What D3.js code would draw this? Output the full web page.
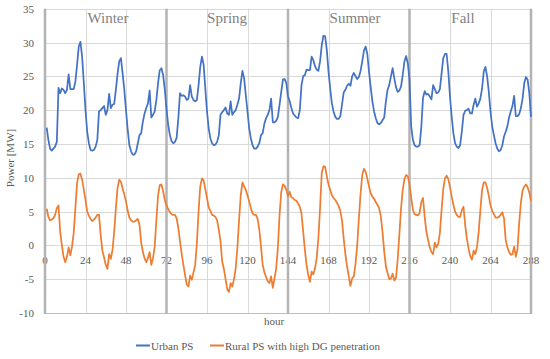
<!DOCTYPE html>
<html><head><meta charset="utf-8">
<script src="https://cdn.jsdelivr.net/npm/d3@7"></script>
<style>
html,body{margin:0;padding:0;background:#fff;}
svg{display:block;font-family:"Liberation Serif","DejaVu Serif",serif;}
</style></head>
<body>
<svg id="chart" width="550" height="359"></svg>
<script>
// ---- data ----
const seasons = ["Winter", "Spring", "Summer", "Fall"];
const seasonBounds = [0, 72, 144, 216, 288];
const xTicks = [0, 24, 48, 72, 96, 120, 144, 168, 192, 216, 240, 264, 288];
const yTicks = [-10, -5, 0, 5, 10, 15, 20, 25, 30, 35];
const seriesNames = ["Urban PS", "Rural PS with high DG penetration"];

const urbanPS = [
 17.4,15.6,14.3,14.0,14.3,14.6,15.3,23.3,22.5,23.2,23.0,22.5,23.0,25.3,23.1,23.1,23.1,24.2,26.7,29.4,30.1,27.9,24.0,20.0,
 16.8,15.1,14.1,14.0,14.1,14.6,15.6,19.8,20.0,20.3,20.6,19.3,20.0,22.4,20.3,20.8,20.9,23.0,25.4,27.2,27.7,25.4,23.0,20.0,
 17.1,14.8,13.9,13.4,13.4,13.9,15.1,16.3,16.6,18.3,19.5,20.3,21.0,22.9,18.9,19.3,19.8,21.5,24.0,25.9,26.2,25.2,23.0,20.2,
 17.8,16.3,15.4,15.1,15.3,15.9,18.8,22.5,22.1,22.2,22.0,21.5,21.7,23.7,22.0,21.5,21.3,21.5,23.7,26.4,27.9,26.7,23.2,19.8,
 17.3,15.8,15.1,14.8,14.9,15.3,16.3,19.3,19.7,20.0,20.4,19.5,19.3,21.3,19.3,19.7,20.0,20.8,21.7,24.0,25.8,24.7,22.2,19.8,
 17.3,15.8,14.8,14.3,14.3,14.6,15.1,16.3,16.6,18.0,18.8,19.3,20.0,21.7,18.2,18.2,18.4,19.0,20.8,22.7,24.5,24.6,24.0,22.0,
 21.3,20.3,19.5,19.2,18.9,18.8,20.0,23.7,25.0,25.2,26.0,25.9,25.9,27.9,27.4,26.5,26.0,25.8,27.2,29.6,31.0,30.9,28.9,25.7,
 23.2,21.0,19.8,19.0,18.7,18.7,19.1,20.8,22.6,23.0,23.6,23.9,23.6,25.0,25.5,25.0,24.6,24.9,25.8,27.2,28.8,29.4,28.3,25.7,
 23.4,21.3,19.8,18.8,18.1,17.9,18.1,18.5,18.9,21.3,23.0,23.7,25.0,26.2,24.7,23.4,22.7,22.9,23.5,25.2,27.2,28.0,26.9,24.5,
 17.6,15.6,14.8,14.6,14.6,14.8,17.5,21.8,22.8,22.3,22.4,22.0,21.6,23.7,23.1,22.5,22.6,23.1,25.4,27.7,28.3,28.3,25.7,22.0,
 19.0,16.6,15.1,14.6,14.4,14.8,16.8,19.3,19.9,20.0,20.2,19.5,19.5,20.8,21.7,20.5,21.0,21.7,23.2,25.7,26.4,25.0,22.7,19.8,
 17.6,16.3,15.1,14.3,13.9,14.1,14.8,16.1,16.8,17.6,18.9,19.8,20.6,22.1,19.1,19.1,19.4,20.3,21.7,24.0,24.9,24.5,22.5,19.0
];

const ruralPS = [
 5.4,4.2,3.7,3.8,4.0,4.5,5.5,5.9,2.0,0.0,-1.7,-2.5,-1.7,-0.3,-1.5,-0.2,1.8,5.5,9.2,10.5,10.6,9.7,8.2,6.7,
 5.0,4.4,3.9,3.6,3.8,4.1,4.5,4.5,1.5,-0.8,-1.8,-2.9,-3.5,-1.3,-2.0,-0.7,2.0,5.5,8.5,9.7,9.4,8.4,7.5,6.5,
 5.1,4.1,3.7,3.5,3.5,3.7,3.9,3.0,0.4,-1.0,-1.9,-2.5,-1.9,-1.0,-2.9,-1.9,-0.2,3.7,7.4,8.9,9.0,8.0,6.7,5.9,
 5.4,4.9,4.6,4.5,4.5,4.0,2.6,0.6,-1.3,-2.9,-4.4,-5.8,-6.1,-4.5,-5.1,-4.0,-2.9,0.3,5.0,8.7,9.9,9.6,8.3,7.0,
 5.6,5.1,4.5,4.4,4.2,3.7,2.3,0.6,-2.4,-3.5,-5.0,-6.5,-6.9,-5.6,-6.1,-5.0,-3.4,-0.4,3.7,7.4,9.3,8.7,8.2,7.4,
 6.5,5.5,4.7,4.5,4.5,3.9,2.3,-0.2,-2.9,-4.0,-4.7,-5.3,-5.6,-4.6,-6.3,-4.9,-3.4,-0.4,4.5,7.9,9.0,8.8,8.2,7.3,
 7.9,7.1,7.0,6.7,6.6,6.2,5.7,4.7,2.0,-0.7,-2.9,-4.4,-5.4,-3.9,-4.3,-3.4,-1.9,1.0,5.5,10.7,11.7,11.6,10.2,9.0,
 8.2,7.4,7.0,6.7,6.3,5.8,5.1,3.7,1.0,-1.3,-3.1,-4.6,-6.0,-4.9,-4.6,-2.8,0.0,4.0,7.6,10.4,11.3,10.9,9.9,8.7,
 7.7,7.2,6.9,6.4,6.0,5.5,4.3,2.0,-0.9,-3.1,-4.1,-5.0,-4.9,-4.2,-5.2,-4.8,-2.1,1.6,5.5,8.2,9.8,10.4,10.2,9.0,
 7.0,5.3,4.6,4.5,4.4,4.8,6.4,7.0,4.2,2.0,0.8,-0.3,-1.0,-1.3,0.4,-0.3,0.2,1.8,5.2,8.3,9.9,10.3,9.8,8.6,
 7.2,6.0,5.0,4.5,4.2,4.2,5.2,5.7,3.0,1.0,-0.5,-1.6,-2.1,-0.8,-1.3,-0.2,2.0,5.2,8.2,9.3,9.3,8.5,7.3,5.9,
 5.1,4.6,4.1,4.1,4.2,4.5,4.9,4.0,0.8,-0.3,-1.0,-1.4,-1.3,-0.2,-1.7,-0.6,3.3,6.3,8.1,8.7,9.0,8.6,7.8,6.6
];

const hours = d3.range(1, urbanPS.length + 1);
const colors = ["#4472c4", "#ed7d31"];

// ---- layout ----
const svg = d3.select("#chart");
const x = d3.scaleLinear().domain([0, 288]).range([45, 531]);
const y = d3.scaleLinear().domain([-10, 35]).range([312.9, 8.7]);

// horizontal gridlines
svg.append("g").selectAll("line").data(yTicks).join("line")
  .attr("x1", x(0)).attr("x2", x(288))
  .attr("y1", d => Math.round(y(d)) + 0.5).attr("y2", d => Math.round(y(d)) + 0.5)
  .attr("stroke", d => d === -10 ? "#bfbfbf" : "#d9d9d9").attr("stroke-width", 1);

// vertical gridlines
svg.append("g").selectAll("line").data(xTicks.filter(t => !seasonBounds.includes(t))).join("line")
  .attr("x1", d => Math.round(x(d)) + 0.5).attr("x2", d => Math.round(x(d)) + 0.5)
  .attr("y1", y(35)).attr("y2", y(-10))
  .attr("stroke", "#d9d9d9").attr("stroke-width", 1);

// y tick labels
svg.append("g").selectAll("text").data(yTicks).join("text")
  .attr("x", 34).attr("y", d => y(d) + 4)
  .attr("text-anchor", "end").attr("font-size", 11).attr("fill", "#595959")
  .text(d => d);

// x tick labels (on zero line)
svg.append("g").selectAll("text").data(xTicks).join("text")
  .attr("x", d => x(d)).attr("y", y(0) + 19)
  .attr("text-anchor", "middle").attr("font-size", 11).attr("fill", "#595959")
  .text(d => d);

// season separators
svg.append("g").selectAll("line").data(seasonBounds).join("line")
  .attr("x1", d => x(d)).attr("x2", d => x(d))
  .attr("y1", y(35)).attr("y2", y(-10) + 1)
  .attr("stroke", "#b3b3b3").attr("stroke-width", 2.5);

// season labels
const seasonLabelHour = [37.3, 107.9, 183.7, 247.7];
svg.append("g").selectAll("text").data(seasons).join("text")
  .attr("x", (d, i) => x(seasonLabelHour[i])).attr("y", 23)
  .attr("text-anchor", "middle").attr("font-size", 15).attr("fill", "#7f7f7f")
  .text(d => d);

// series
const line = d3.line().x(d => x(d[0])).y(d => y(d[1]));
[urbanPS, ruralPS].forEach((vals, i) => {
  svg.append("path")
    .datum(hours.map((h, k) => [h, vals[k]]))
    .attr("d", line).attr("fill", "none")
    .attr("stroke", colors[i]).attr("stroke-width", 1.75)
    .attr("stroke-linejoin", "round");
});

// axis titles
svg.append("text").attr("transform", "translate(14,158) rotate(-90)")
  .attr("text-anchor", "middle").attr("font-size", 11).attr("fill", "#595959")
  .text("Power [MW]");
svg.append("text").attr("x", 274).attr("y", 325)
  .attr("text-anchor", "middle").attr("font-size", 11).attr("fill", "#595959")
  .text("hour");

// legend
const legendX = [136, 210];
const lg = svg.append("g");
seriesNames.forEach((name, i) => {
  lg.append("line").attr("x1", legendX[i]).attr("x2", legendX[i] + 14)
    .attr("y1", 345.5).attr("y2", 345.5).attr("stroke", colors[i]).attr("stroke-width", 2);
  lg.append("text").attr("x", legendX[i] + 15).attr("y", 349.5)
    .attr("font-size", 11).attr("fill", "#595959").text(name);
});
</script>
</body></html>
